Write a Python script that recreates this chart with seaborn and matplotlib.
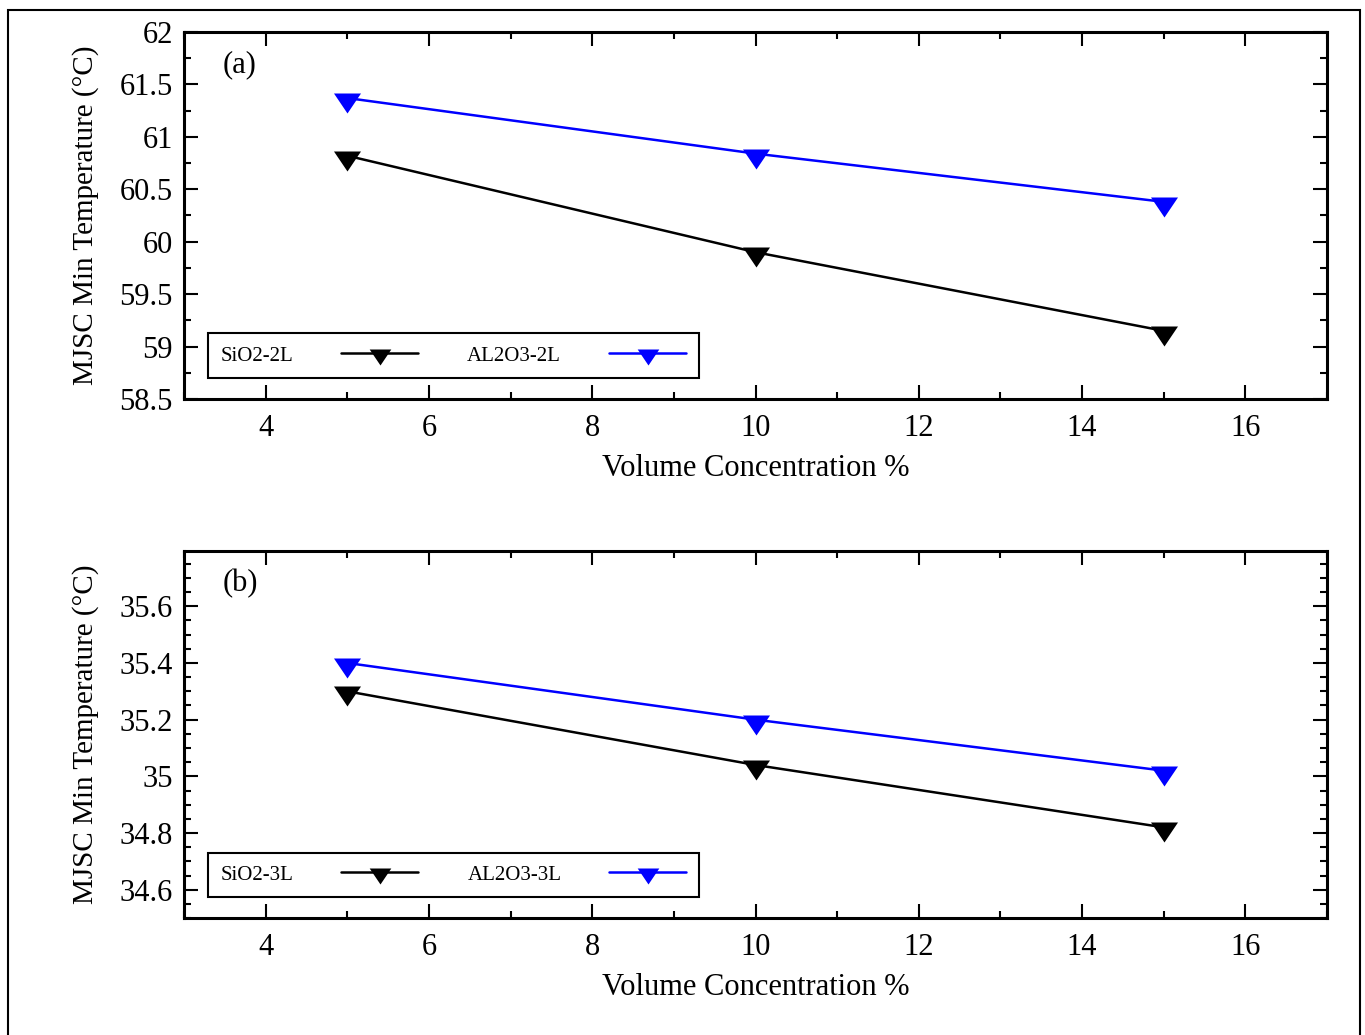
import pandas as pd
import numpy as np
import matplotlib
matplotlib.use('Agg')
import matplotlib.pyplot as plt
import seaborn as sns
from matplotlib.ticker import MultipleLocator, FuncFormatter
from matplotlib.patches import Rectangle

# ---- data ----
conc = [5, 10, 15]

sio2_2l = [60.82, 59.90, 59.15]
al2o3_2l = [61.37, 60.84, 60.38]

sio2_3l = [35.30, 35.04, 34.82]
al2o3_3l = [35.40, 35.20, 35.02]

names_a = ['SiO2-2L', 'AL2O3-2L']
names_b = ['SiO2-3L', 'AL2O3-3L']
colors = ['black', 'blue']

x_label = 'Volume Concentration %'
y_label = 'MJSC Min Temperature (°C)'


def long_table(names, series):
    rows = []
    for name, vals in zip(names, series):
        for c, v in zip(conc, vals):
            rows.append({'conc': c, 'temp': v, 'series': name})
    return pd.DataFrame(rows)


df_a = long_table(names_a, [sio2_2l, al2o3_2l])
df_b = long_table(names_b, [sio2_3l, al2o3_3l])

# ---- style ----
sns.set_theme(style='ticks', rc={
    'axes.edgecolor': 'black', 'text.color': 'black',
    'axes.labelcolor': 'black', 'xtick.color': 'black', 'ytick.color': 'black',
})
plt.rcParams['font.family'] = ['Liberation Serif', 'DejaVu Serif']

# down triangle, the data point sits in its upper quarter
tri = [(-1, 0.37), (1, 0.37), (0, -1.11), (-1, 0.37)]

fig = plt.figure(figsize=(13.65, 10.35), dpi=100)
ax_a = fig.add_axes([0.1348, 0.6145, 0.8374, 0.3546])
ax_b = fig.add_axes([0.1348, 0.1130, 0.8374, 0.3546])

fmt = FuncFormatter(lambda v, p: f'{v:g}')

panels = [
    (ax_a, df_a, names_a, (58.5, 62), 0.5, 0.25, '(a)'),
    (ax_b, df_b, names_b, (34.5, 35.795), 0.2, 0.05, '(b)'),
]

for ax, df, names, ylim, ymaj, ymin, tag in panels:
    sns.lineplot(data=df, x='conc', y='temp', hue='series', hue_order=names,
                 palette=colors, marker=tri, markersize=21.6,
                 markeredgewidth=0, linewidth=1.8, errorbar=None, ax=ax)

    ax.set_xlim(3, 17)
    ax.set_ylim(*ylim)
    ax.xaxis.set_major_locator(MultipleLocator(2))
    ax.xaxis.set_minor_locator(MultipleLocator(1))
    ax.yaxis.set_major_locator(MultipleLocator(ymaj))
    ax.yaxis.set_minor_locator(MultipleLocator(ymin))
    ax.yaxis.set_major_formatter(fmt)

    ax.tick_params(which='both', direction='in', top=True, right=True,
                   width=1.5, labelsize=22)
    ax.tick_params(axis='x', pad=11)
    ax.tick_params(axis='y', pad=8)
    ax.tick_params(which='major', length=10)
    ax.tick_params(which='minor', length=5)
    for s in ax.spines.values():
        s.set_linewidth(2.2)
        s.set_visible(True)

    ax.set_xlabel(x_label, fontsize=22, labelpad=8)
    ax.set_ylabel(y_label, fontsize=21, labelpad=15)

    ax.text(0.034, 0.91, tag, transform=ax.transAxes, fontsize=22,
            ha='left', va='center')

    sns.move_legend(ax, 'lower left', bbox_to_anchor=(0.021, 0.057),
                    borderaxespad=0, ncol=2, markerfirst=False, title=None,
                    frameon=True, fontsize=15, handlelength=3.7,
                    handletextpad=2.3, columnspacing=2.35, borderpad=0.6,
                    fancybox=False, edgecolor='black', framealpha=1,
                    markerscale=0.8)
    ax.get_legend().get_frame().set_linewidth(1.5)

# outer frame around the whole figure
fig.add_artist(Rectangle((8 / 1365, -0.02), 1352 / 1365, 1.02 - 10 / 1035,
                         transform=fig.transFigure, fill=False,
                         edgecolor='black', linewidth=1.5, clip_on=False))

fig.savefig('out.png', dpi=100)
